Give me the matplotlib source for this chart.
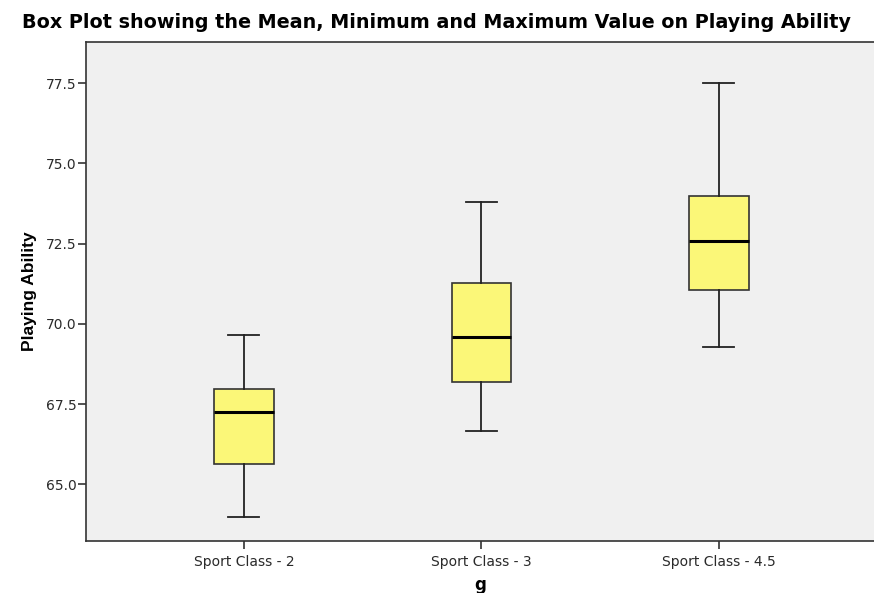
import matplotlib
matplotlib.use('Agg')
import matplotlib.pyplot as plt

# valores
grupos = ['Sport Class - 2', 'Sport Class - 3', 'Sport Class - 4.5']
minimos = [64.0, 66.68, 69.28]
q1s = [65.64, 68.19, 71.06]
medianas = [67.26, 69.60, 72.59]
q3s = [67.97, 71.28, 73.99]
maximos = [69.66, 73.80, 77.51]
yticks = [65.0, 67.5, 70.0, 72.5, 75.0, 77.5]

plt.rcParams['font.family'] = ['DejaVu Sans']

stats = []
for i in range(len(grupos)):
    stats.append({
        'label': grupos[i],
        'whislo': minimos[i], 'q1': q1s[i], 'med': medianas[i],
        'q3': q3s[i], 'whishi': maximos[i], 'fliers': []
    })

fig = plt.figure(figsize=(8.74, 5.93), dpi=100)
ax = fig.add_axes([86 / 874, 52 / 593, 1 - 86 / 874, 499 / 593])
ax.set_facecolor('#f0f0f0')

ax.bxp(stats, positions=[1, 2, 3], widths=0.25, patch_artist=True,
       showfliers=False,
       boxprops=dict(facecolor='#fbf778', edgecolor='#333333', linewidth=1.2),
       medianprops=dict(color='black', linewidth=2.2),
       whiskerprops=dict(color='#222222', linewidth=1.3),
       capprops=dict(color='#222222', linewidth=1.3),
       capwidths=0.13)

ax.set_xlim(0.335, 3.653)
ax.set_ylim(63.24, 78.78)
ax.set_yticks(yticks)
ax.set_yticklabels([f'{v:.1f}' for v in yticks])

ax.spines['right'].set_visible(False)
for lado in ['left', 'bottom', 'top']:
    ax.spines[lado].set_color('#333333')
    ax.spines[lado].set_linewidth(1.2)

ax.tick_params(axis='both', direction='out', length=6, width=1.2,
               color='#333333', labelsize=10, labelcolor='#2a2a2a')
ax.tick_params(axis='y', pad=1)
ax.tick_params(axis='x', pad=4)

ax.set_ylabel('Playing Ability', fontsize=12.5, fontweight='bold',
              family=['Liberation Sans Narrow', 'Liberation Sans'], labelpad=6)
ax.set_xlabel('g', fontsize=12, fontweight='bold', labelpad=5)
fig.suptitle('Box Plot showing the Mean, Minimum and Maximum Value on Playing Ability',
             fontsize=13.8, fontweight='bold', x=0.5, y=0.978)

plt.savefig('out.png', dpi=100)
plt.close()
